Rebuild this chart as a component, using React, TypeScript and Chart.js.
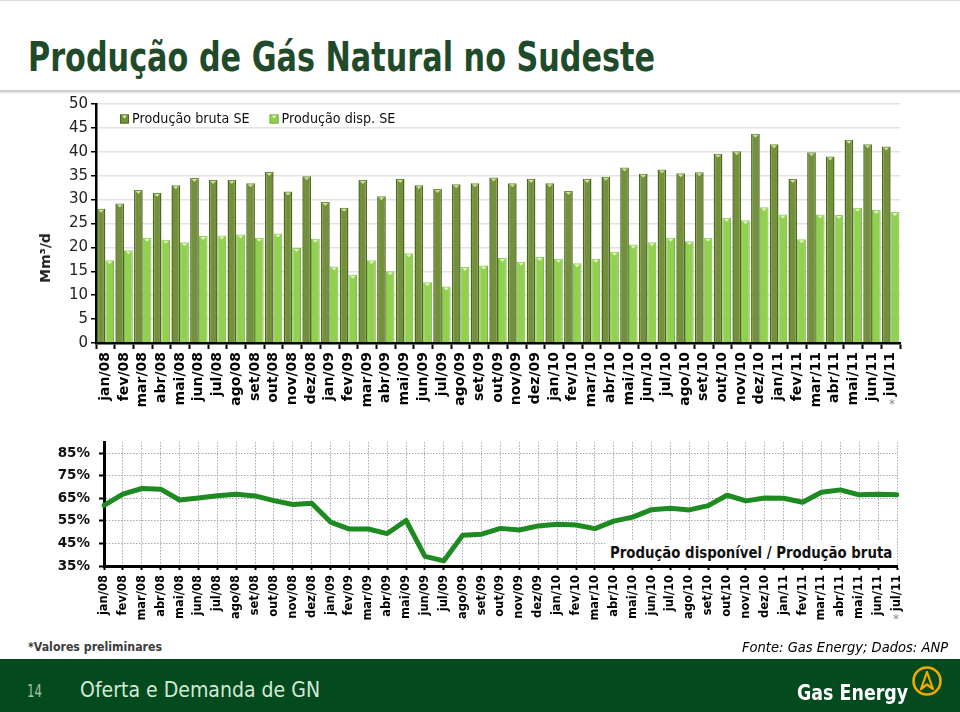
import React, { useEffect, useLayoutEffect, useRef, useState } from 'react';
import { Chart, registerables } from 'chart.js';

Chart.register(...registerables);

// ---------------- data ----------------
const months = [
  'jan/08', 'fev/08', 'mar/08', 'abr/08', 'mai/08', 'jun/08', 'jul/08', 'ago/08', 'set/08', 'out/08', 'nov/08', 'dez/08',
  'jan/09', 'fev/09', 'mar/09', 'abr/09', 'mai/09', 'jun/09', 'jul/09', 'ago/09', 'set/09', 'out/09', 'nov/09', 'dez/09',
  'jan/10', 'fev/10', 'mar/10', 'abr/10', 'mai/10', 'jun/10', 'jul/10', 'ago/10', 'set/10', 'out/10', 'nov/10', 'dez/10',
  'jan/11', 'fev/11', 'mar/11', 'abr/11', 'mai/11', 'jun/11', 'jul/11',
];

const producaoBruta = [
  28.1, 29.2, 32.0, 31.4, 33.0, 34.5, 34.1, 34.1, 33.4, 35.8, 31.7, 34.9,
  29.5, 28.3, 34.1, 30.7, 34.3, 33.0, 32.2, 33.2, 33.4, 34.6, 33.4, 34.3,
  33.4, 31.8, 34.3, 34.8, 36.7, 35.4, 36.3, 35.5, 35.7, 39.6, 40.1, 43.8,
  41.6, 34.3, 39.9, 39.0, 42.5, 41.6, 41.1,
];

const producaoDisp = [
  17.3, 19.4, 22.0, 21.6, 21.1, 22.4, 22.5, 22.7, 22.0, 22.9, 19.9, 21.8,
  16.0, 14.3, 17.3, 15.0, 18.8, 12.7, 11.8, 15.9, 16.2, 17.8, 17.0, 18.0,
  17.6, 16.7, 17.6, 19.1, 20.6, 21.1, 22.0, 21.3, 22.0, 26.2, 25.7, 28.4,
  26.9, 21.7, 26.9, 26.8, 28.3, 27.8, 27.4,
];

const razaoDispBruta = [
  61.9, 66.9, 69.4, 69.1, 64.3, 65.2, 66.2, 66.9, 66.1, 64.0, 62.3, 62.9,
  54.5, 51.4, 51.4, 49.4, 55.2, 39.3, 37.3, 48.7, 49.1, 51.7, 51.0, 52.8,
  53.5, 53.2, 51.6, 54.9, 56.7, 60.0, 60.6, 59.9, 61.8, 66.4, 63.9, 65.2,
  65.1, 63.3, 67.7, 68.8, 66.6, 66.8, 66.6,
];

const seriesLabels = ['Produção bruta SE', 'Produção disp. SE'];
const razaoTicks = [35, 45, 55, 65, 75, 85];

const FONT = "'DejaVu Sans', Verdana, sans-serif";

// ---------------- helpers ----------------
function FitText(props: {
  text: string; left: number; cy: number; width: number; size: number;
  weight?: string; italic?: boolean; color: string; family?: string;
}) {
  const ref = useRef<HTMLSpanElement>(null);
  const [sx, setSx] = useState(1);
  useLayoutEffect(() => {
    const el = ref.current;
    if (el && el.offsetWidth > 0) setSx(props.width / el.offsetWidth);
  }, [props.text, props.width]);
  return (
    <span
      ref={ref}
      style={{
        position: 'absolute', left: props.left, top: props.cy, whiteSpace: 'nowrap',
        fontFamily: props.family || FONT, fontSize: props.size, fontWeight: props.weight || 'normal',
        fontStyle: props.italic ? 'italic' : 'normal', color: props.color, lineHeight: 1,
        transform: `translateY(-50%) scaleX(${sx})`, transformOrigin: 'left center',
      }}
    >
      {props.text}
    </span>
  );
}

const insideLegend = {
  id: 'insideLegend',
  afterDraw(chart: any) {
    const { ctx, chartArea } = chart;
    ctx.save();
    ctx.font = `14.5px ${FONT}`;
    ctx.textBaseline = 'middle';
    let x = chartArea.left + 24;
    const y = chartArea.top + 15;
    chart.data.datasets.forEach((ds: any) => {
      ctx.fillStyle = ds.backgroundColor;
      ctx.fillRect(x, y - 4.5, 9, 9);
      ctx.strokeStyle = ds.borderColor;
      ctx.lineWidth = 1;
      ctx.strokeRect(x + 0.5, y - 4, 8, 8);
      ctx.fillStyle = 'rgba(235,250,210,0.9)';
      ctx.beginPath();
      ctx.moveTo(x + 2, y - 3.5); ctx.lineTo(x + 7, y - 3.5); ctx.lineTo(x + 4.5, y - 0.5); ctx.closePath(); ctx.fill();
      ctx.save();
      ctx.translate(x + 12, y + 0.5);
      ctx.scale(0.88, 1);
      ctx.fillStyle = '#111';
      ctx.fillText(ds.label, 0, 0);
      const w = ctx.measureText(ds.label).width * 0.88;
      ctx.restore();
      x += 12 + w + 20;
    });
    ctx.restore();
  },
};

const barBevel = {
  id: 'barBevel',
  afterDatasetsDraw(chart: any) {
    const ctx = chart.ctx;
    chart.data.datasets.forEach((_ds: any, i: number) => {
      const meta = chart.getDatasetMeta(i);
      meta.data.forEach((bar: any) => {
        const { x, y, width } = bar.getProps(['x', 'y', 'width'], true);
        ctx.save();
        ctx.fillStyle = i === 0 ? 'rgba(205,232,160,0.95)' : 'rgba(228,248,200,0.95)';
        ctx.beginPath();
        ctx.moveTo(x - width * 0.32, y + 1);
        ctx.lineTo(x + width * 0.32, y + 1);
        ctx.lineTo(x, y + 4);
        ctx.closePath();
        ctx.fill();
        ctx.restore();
      });
    });
  },
};

// ---------------- charts ----------------
function BarChart() {
  const ref = useRef<HTMLCanvasElement>(null);
  useEffect(() => {
    if (!ref.current) return;
    const chart = new Chart(ref.current, {
      type: 'bar',
      data: {
        labels: months,
        datasets: [
          {
            label: seriesLabels[0], data: producaoBruta, backgroundColor: '#72913a', borderColor: '#4e6824',
            borderWidth: { left: 1.5, right: 1.5, top: 0, bottom: 0 } as any,
          },
          {
            label: seriesLabels[1], data: producaoDisp, backgroundColor: '#92d050', borderColor: '#76b43c',
            borderWidth: { left: 1, right: 1, top: 0, bottom: 0 } as any,
          },
        ],
      },
      options: {
        responsive: false,
        animation: false,
        events: [],
        datasets: { bar: { categoryPercentage: 0.93, barPercentage: 1 } },
        layout: { padding: { top: 12, right: 20, left: 0, bottom: 0 } },
        plugins: { legend: { display: false }, tooltip: { enabled: false } },
        scales: {
          x: {
            grid: { offset: true, drawOnChartArea: false, tickLength: 6, tickColor: '#000', tickWidth: 2 },
            border: { color: '#000', width: 2.5 },
            ticks: {
              autoSkip: false, maxRotation: 90, minRotation: 90, padding: 3, color: '#000',
              font: { family: FONT, size: 14, weight: 'bold' },
            },
            afterFit: (s: any) => { s.height = 67; },
          },
          y: {
            min: 0, max: 50,
            ticks: { stepSize: 5, padding: 3, color: '#222', font: { family: FONT, size: 15 } },
            grid: { color: '#e3e3e3', lineWidth: 1.5, tickLength: 5, tickColor: '#000', tickWidth: 1.5 },
            border: { color: '#000', width: 2.5 },
            afterFit: (s: any) => { s.width = 96; },
          },
        },
      } as any,
      plugins: [barBevel, insideLegend],
    });
    return () => chart.destroy();
  }, []);
  return <canvas ref={ref} width={920} height={318} style={{ position: 'absolute', left: 0, top: 92, width: 920, height: 318 }} />;
}

function LineChart() {
  const ref = useRef<HTMLCanvasElement>(null);
  useEffect(() => {
    if (!ref.current) return;
    const chart = new Chart(ref.current, {
      type: 'line',
      data: {
        labels: months,
        datasets: [
          {
            label: 'Produção disponível / Produção bruta', data: razaoDispBruta, borderColor: '#1d8a22',
            borderWidth: 5, pointRadius: 0, tension: 0, fill: false, borderJoinStyle: 'round', borderCapStyle: 'round',
          },
        ],
      },
      options: {
        responsive: false,
        animation: false,
        events: [],
        layout: { padding: { top: 8, right: 23, left: 0, bottom: 0 } },
        plugins: { legend: { display: false }, tooltip: { enabled: false } },
        scales: {
          x: {
            offset: false,
            grid: { color: '#a9a9a9', lineWidth: 1, tickLength: 4, tickColor: '#000', tickWidth: 2 },
            border: { color: '#000', width: 3, dash: [1.5, 1.5] },
            ticks: {
              autoSkip: false, maxRotation: 90, minRotation: 90, padding: 5, color: '#000',
              font: { family: FONT, size: 11.5, weight: 'bold' },
            },
            afterFit: (s: any) => { s.height = 55; },
          },
          y: {
            min: 35, max: 90,
            afterBuildTicks: (s: any) => { s.ticks = razaoTicks.map((v) => ({ value: v })); },
            ticks: {
              padding: 9, color: '#111', font: { family: FONT, size: 13.5, weight: 'bold' },
              callback: (v: any) => `${v}%`,
            },
            grid: { color: '#a9a9a9', lineWidth: 1, tickLength: 5, tickColor: '#000', tickWidth: 2 },
            border: { color: '#000', width: 3, dash: [1.5, 1.5] },
            afterFit: (s: any) => { s.width = 104; },
          },
        },
      } as any,
    });
    return () => chart.destroy();
  }, []);
  return <canvas ref={ref} width={920} height={196} style={{ position: 'absolute', left: 0, top: 425, width: 920, height: 196 }} />;
}

export default function App() {
  return (
    <div style={{ position: 'absolute', left: 0, top: 0, width: 960, height: 712, overflow: 'hidden', background: '#fff' }}>
      <div style={{ position: 'absolute', left: 0, top: 0, width: 960, height: 1, background: '#dcdcdc' }} />
      <FitText text="Produção de Gás Natural no Sudeste" left={28} cy={57} width={627} size={41} weight="bold" color="#1f4b2a" />
      <div style={{ position: 'absolute', left: 0, top: 90, width: 960, height: 2, background: '#cfcfcf', boxShadow: '0 1px 2px rgba(0,0,0,0.15)' }} />

      <BarChart />
      <div style={{
        position: 'absolute', left: 45, top: 258, transform: 'translate(-50%, -50%) rotate(-90deg)',
        fontFamily: FONT, fontSize: 14, fontWeight: 'bold', color: '#222', whiteSpace: 'nowrap', lineHeight: 1,
      }}>Mm³/d</div>
      <span style={{ position: 'absolute', left: 889, top: 397, fontFamily: FONT, fontSize: 12, color: '#888' }}>*</span>

      <LineChart />
      <div style={{ position: 'absolute', left: 605, top: 541, width: 292, height: 24, background: '#fff' }} />
      <FitText text="Produção disponível / Produção bruta" left={610} cy={553} width={282} size={16} weight="bold" color="#111" />
      <span style={{ position: 'absolute', left: 893, top: 612, fontFamily: FONT, fontSize: 12, color: '#888' }}>*</span>

      <FitText text="*Valores preliminares" left={28} cy={647} width={134} size={12} weight="bold" color="#3c3c3c" />
      <FitText text="Fonte: Gas Energy; Dados: ANP" left={742} cy={647} width={206} size={14} italic color="#000" />

      <div style={{ position: 'absolute', left: 0, top: 659, width: 960, height: 53, background: '#034a1f' }} />
      <FitText text="14" left={27} cy={691} width={15} size={18} color="#a3c2a6" />
      <FitText text="Oferta e Demanda de GN" left={80} cy={690} width={240} size={22} color="#d4e9d3" />
      <FitText text="Gas Energy" left={797} cy={693} width={111} size={22} weight="bold" color="#ffffff" />
      <svg style={{ position: 'absolute', left: 910, top: 663, width: 36, height: 36 }} viewBox="0 0 36 36">
        <circle cx="17" cy="18" r="13.5" fill="none" stroke="#f1a900" strokeWidth="2.6" />
        <path d="M11 26 L17 9 L23 26 L17 21.5 Z" fill="none" stroke="#f1a900" strokeWidth="2.2" strokeLinejoin="round" />
      </svg>
    </div>
  );
}
